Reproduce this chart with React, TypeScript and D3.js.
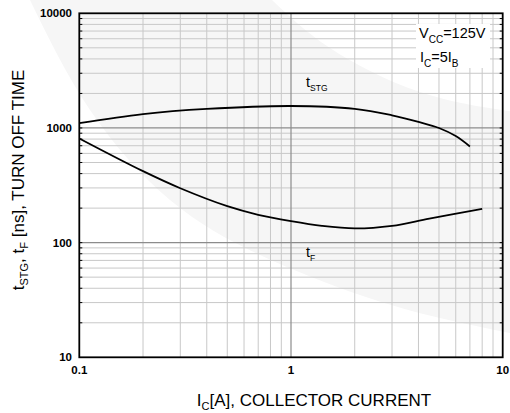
import React from "react";
import * as d3 from "d3";

const W = 510;
const H = 413;

// Data (x: collector current A, y: time ns)
const tstgX = [0.1, 0.2, 0.4, 1.0, 2.0, 3.0, 4.0, 5.0, 6.0, 7.0];
const tstgY = [1100, 1320, 1465, 1555, 1470, 1290, 1130, 1000, 850, 690];
const tfX = [0.1, 0.2, 0.3, 0.5, 0.7, 1.0, 1.4, 2.0, 3.0, 4.5, 8.0];
const tfY = [810, 420, 298, 208, 175, 154, 140, 133, 140, 162, 197];

const xTickVals = [0.1, 1, 10];
const xTickLabels = ["0.1", "1", "10"];
const yTickVals = [10, 100, 1000, 10000];
const yTickLabels = ["10", "100", "1000", "10000"];

const FONT = "'Liberation Sans', Arial, Helvetica, sans-serif";

export default function App() {
  const left = 79.3, right = 502.7, top = 13.3, bottom = 357.3;
  const x = d3.scaleLog().domain([0.1, 10]).range([left, right]);
  const y = d3.scaleLog().domain([10, 10000]).range([bottom, top]);

  const minorX: number[] = [];
  const minorY: number[] = [];
  [0.1, 1].forEach((d) => {
    for (let k = 2; k <= 9; k++) minorX.push(d * k);
  });
  [10, 100, 1000].forEach((d) => {
    for (let k = 2; k <= 9; k++) minorY.push(d * k);
  });

  const line = d3
    .line<[number, number]>()
    .x((d) => x(d[0]))
    .y((d) => y(d[1]))
    .curve(d3.curveCatmullRom.alpha(0.5));

  const tstgPath = line(tstgX.map((v, i) => [v, tstgY[i]] as [number, number])) || "";
  const tfPath = line(tfX.map((v, i) => [v, tfY[i]] as [number, number])) || "";

  // faint watermark swoosh
  const swooshInner: [number, number][] = [
    [30, 0], [90, 110], [170, 200], [260, 255], [360, 295], [440, 318], [515, 334],
  ];
  const swooshOuter: [number, number][] = [
    [515, 112], [420, 92], [330, 48], [272, 0],
  ];
  const lg = d3.line().curve(d3.curveNatural);
  const swoosh =
    (lg(swooshInner) || "") + "L" + (lg(swooshOuter) || "").slice(1) + "Z";

  return (
    <svg width={W} height={H} style={{ position: "absolute", left: 0, top: 0, background: "#fff" }}>
      <rect x={0} y={0} width={W} height={H} fill="#fff" />
      <path d={swoosh} fill="#f6f6f6" stroke="none" />

      {/* minor grid */}
      {minorX.map((v, i) => (
        <line key={"mx" + i} x1={x(v)} x2={x(v)} y1={top} y2={bottom} stroke="#c8c8c8" strokeWidth={1} />
      ))}
      {minorY.map((v, i) => (
        <line key={"my" + i} x1={left} x2={right} y1={y(v)} y2={y(v)} stroke="#c8c8c8" strokeWidth={1} />
      ))}
      {/* major grid */}
      <line x1={x(1)} x2={x(1)} y1={top} y2={bottom} stroke="#8c8c8c" strokeWidth={1.2} />
      {[100, 1000].map((v) => (
        <line key={"My" + v} x1={left} x2={right} y1={y(v)} y2={y(v)} stroke="#8c8c8c" strokeWidth={1.2} />
      ))}

      {/* inward ticks on left and right */}
      {minorY.concat([100, 1000]).map((v, i) => (
        <g key={"t" + i}>
          <line x1={left} x2={left + 3} y1={y(v)} y2={y(v)} stroke="#000" strokeWidth={1} />
          <line x1={right - 3} x2={right} y1={y(v)} y2={y(v)} stroke="#000" strokeWidth={1} />
        </g>
      ))}

      {/* curves */}
      <path d={tstgPath} fill="none" stroke="#000" strokeWidth={1.8} />
      <path d={tfPath} fill="none" stroke="#000" strokeWidth={1.8} />

      {/* frame */}
      <rect x={left} y={top} width={right - left} height={bottom - top} fill="none" stroke="#000" strokeWidth={1.8} />

      {/* tick labels */}
      {yTickVals.map((v, i) => (
        <text key={"yl" + i} x={72} y={y(v) + 4} textAnchor="end" fontFamily={FONT} fontWeight="bold" fontSize={11.5} fill="#000">
          {yTickLabels[i]}
        </text>
      ))}
      {xTickVals.map((v, i) => (
        <text key={"xl" + i} x={x(v)} y={374} textAnchor="middle" fontFamily={FONT} fontWeight="bold" fontSize={11.5} fill="#000">
          {xTickLabels[i]}
        </text>
      ))}

      {/* annotations */}
      <rect x={416} y={24} width={74} height={44} fill="#fff" />
      <text x={419} y={38} fontFamily={FONT} fontSize={14.5} fill="#000">
        V<tspan fontSize={10} dy={5}>CC</tspan><tspan dy={-5}>=125V</tspan>
      </text>
      <text x={420} y={62} fontFamily={FONT} fontSize={14.5} fill="#000">
        I<tspan fontSize={10} dy={5}>C</tspan><tspan dy={-5}>=5I</tspan><tspan fontSize={10} dy={5}>B</tspan>
      </text>

      <text x={306} y={87} fontFamily={FONT} fontSize={14.5} fill="#000">
        t<tspan fontSize={8.5} dy={4}>STG</tspan>
      </text>
      <text x={306} y={257} fontFamily={FONT} fontSize={14.5} fill="#000">
        t<tspan fontSize={8.5} dy={4}>F</tspan>
      </text>

      {/* axis titles */}
      <text x={314} y={406} textAnchor="middle" fontFamily={FONT} fontSize={17} fill="#000">
        I<tspan fontSize={11} dy={4}>C</tspan><tspan dy={-4}>[A], COLLECTOR CURRENT</tspan>
      </text>
      <text transform={`translate(24,180) rotate(-90)`} textAnchor="middle" fontFamily={FONT} fontSize={17} fill="#000">
        t<tspan fontSize={11} dy={4}>STG</tspan><tspan dy={-4}>, t</tspan><tspan fontSize={11} dy={4}>F</tspan><tspan dy={-4}> [ns], TURN OFF TIME</tspan>
      </text>
    </svg>
  );
}
